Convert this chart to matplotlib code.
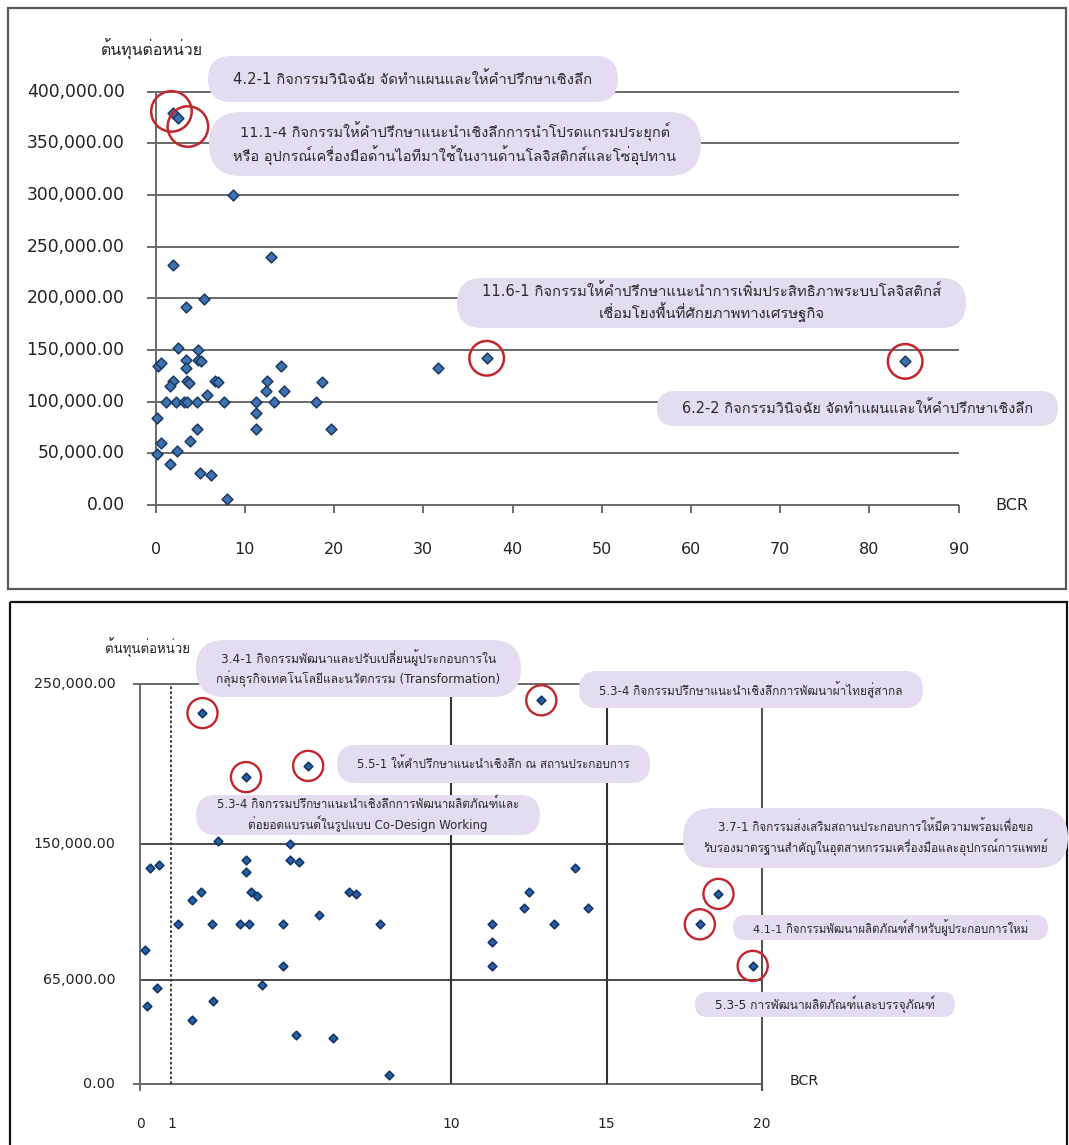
import matplotlib
matplotlib.use("Agg")
import matplotlib.pyplot as plt
import matplotlib.transforms as mtransforms
from matplotlib import font_manager
from matplotlib.ft2font import FT2Font
from matplotlib.patches import FancyBboxPatch, Rectangle

# ---- data (BCR vs cost per unit) ----
bcr = [0.3, 0.6, 2.0, 12.9, 3.4, 5.4, 2.5, 4.8,
       3.4, 3.4, 4.8, 5.1, 14.0, 1.95, 1.65, 3.55,
       3.75, 6.7, 6.95, 12.5, 18.6, 5.75, 12.35, 14.4,
       1.2, 2.3, 3.2, 3.5, 4.6, 7.7, 11.3, 13.3,
       18.0, 11.3, 0.15, 4.6, 11.3, 19.7, 0.55, 3.9,
       0.2, 2.35, 1.65, 5.0, 6.2, 8.0, 8.7, 2.0,
       2.5, 31.7, 37.1, 84.0]
cost = [135000, 137000, 232000, 240000, 192000, 199000, 152000, 150000,
        140000, 133000, 140000, 139000, 135000, 120000, 115000, 120000,
        118000, 120000, 119000, 120000, 119000, 106000, 110000, 110000,
        100000, 100000, 100000, 100000, 100000, 100000, 100000, 100000,
        100000, 89000, 84000, 74000, 74000, 74000, 60000, 62000,
        49000, 52000, 40000, 31000, 29000, 6000, 300000, 379000,
        375000, 133000, 142000, 139000]

# highlighted (circled) projects
top_ring_bcr = [2.0, 2.5, 37.1, 84.0]
top_ring_cost = [379000, 375000, 142000, 139000]
bottom_ring_bcr = [2.0, 3.4, 5.4, 12.9, 18.6, 18.0, 19.7]
bottom_ring_cost = [232000, 192000, 199000, 240000, 119000, 100000, 74000]

top_xticks = [0, 10, 20, 30, 40, 50, 60, 70, 80, 90]
top_yticks = [0, 50000, 100000, 150000, 200000, 250000, 300000, 350000, 400000]
bottom_xticks = [0, 1, 10, 15, 20]
bottom_yticks = [0, 65000, 150000, 250000]
bottom_vlines = [10, 15, 20]
bottom_dotted = 1
bottom_xmax = 20
bottom_ymax = 250000

y_title = "ต้นทุนต่อหน่วย"
x_title = "BCR"

top_notes = [
    "4.2-1 กิจกรรมวินิจฉัย จัดทำแผนและให้คำปรึกษาเชิงลึก",
    "11.1-4 กิจกรรมให้คำปรึกษาแนะนำเชิงลึกการนำโปรดแกรมประยุกต์\n"
    "หรือ อุปกรณ์เครื่องมือด้านไอทีมาใช้ในงานด้านโลจิสติกส์และโซ่อุปทาน",
    "11.6-1 กิจกรรมให้คำปรึกษาแนะนำการเพิ่มประสิทธิภาพระบบโลจิสติกส์\n"
    "เชื่อมโยงพื้นที่ศักยภาพทางเศรษฐกิจ",
    "6.2-2 กิจกรรมวินิจฉัย จัดทำแผนและให้คำปรึกษาเชิงลึก",
]
bottom_notes = [
    "3.4-1 กิจกรรมพัฒนาและปรับเปลี่ยนผู้ประกอบการใน\n"
    "กลุ่มธุรกิจเทคโนโลยีและนวัตกรรม (Transformation)",
    "5.3-4 กิจกรรมปรึกษาแนะนำเชิงลึกการพัฒนาผ้าไทยสู่สากล",
    "5.5-1 ให้คำปรึกษาแนะนำเชิงลึก ณ สถานประกอบการ",
    "5.3-4 กิจกรรมปรึกษาแนะนำเชิงลึกการพัฒนาผลิตภัณฑ์และ\n"
    "ต่อยอดแบรนด์ในรูปแบบ Co-Design Working",
    "3.7-1 กิจกรรมส่งเสริมสถานประกอบการให้มีความพร้อมเพื่อขอ\n"
    "รับรองมาตรฐานสำคัญในอุตสาหกรรมเครื่องมือและอุปกรณ์การแพทย์",
    "4.1-1 กิจกรรมพัฒนาผลิตภัณฑ์สำหรับผู้ประกอบการใหม่",
    "5.3-5 การพัฒนาผลิตภัณฑ์และบรรจุภัณฑ์",
]

# ---- layout (pixels of the 1069x1145 picture) ----
W, H = 1069, 1145
top_boxes = [(208, 56, 618, 102), (209, 112, 701, 176),
             (457, 278, 966, 328), (657, 391, 1058, 426)]
bottom_boxes = [(196, 640, 521, 697), (579, 671, 923, 708),
                (337, 745, 650, 783), (196, 795, 540, 835),
                (683, 808, 1068, 868), (733, 915, 1048, 940),
                (695, 992, 955, 1017)]
top_ring_shift = [(-2, 2), (10, -9), (0, 0), (0, 0)]   # px, (right, up)
top_ring_size = [850, 850, 620, 620]


def thai_font():
    # first installed font that really has Thai glyphs
    for f in font_manager.fontManager.ttflist:
        try:
            if ord("ก") in FT2Font(f.fname).get_charmap():
                return f.name
        except Exception:
            pass
    return None


fam = ["DejaVu Sans"]
tf = thai_font()
if tf:
    fam.append(tf)
plt.rcParams["font.family"] = fam

fig = plt.figure(figsize=(W / 100, H / 100), dpi=100)


def make_panel(top_px, bottom_px, xref, yref):
    ax = fig.add_axes([0, 1 - bottom_px / H, 1, (bottom_px - top_px) / H])
    (xp0, xv0), (xp1, xv1) = xref
    kx = (xv1 - xv0) / (xp1 - xp0)
    ax.set_xlim(xv0 - xp0 * kx, xv0 + (W - xp0) * kx)
    (yp0, yv0), (yp1, yv1) = yref
    ky = (yv1 - yv0) / (yp0 - yp1)
    ax.set_ylim(yv0 - (bottom_px - yp0) * ky, yv0 + (yp0 - top_px) * ky)
    ax.axis("off")
    return ax, kx, ky


grey = "#6a6a6a"
ink = "#222222"

# ---------------- top panel ----------------
ax1, kx1, ky1 = make_panel(0, 595, ((155.6, 0), (958.7, 90)),
                           ((505, 0), (91.7, 400000)))
ax1.hlines(top_yticks, -9 * kx1, top_xticks[-1], color=grey, lw=1.4, zorder=1)
ax1.vlines(0, 0, top_yticks[-1], color=grey, lw=1.4, zorder=1)
ax1.vlines(top_xticks, -8 * ky1, 0, color=grey, lw=1.4, zorder=1)
for v in top_yticks:
    ax1.annotate(f"{v:,.2f}", (0, v), xytext=(-31, 0), textcoords="offset pixels",
                 ha="right", va="center", fontsize=12.3, color=ink)
for v in top_xticks:
    ax1.annotate(f"{v}", (v, 0), xytext=(0, -45), textcoords="offset pixels",
                 ha="center", va="center", fontsize=11.5, color=ink)

ax1.scatter(bcr, cost, marker="D", s=30, c="#3f73ad", edgecolors="#1b3a63",
            linewidths=1.1, zorder=3)
for xv, yv, (dx, dy), sz in zip(top_ring_bcr, top_ring_cost, top_ring_shift, top_ring_size):
    tr = ax1.transData + mtransforms.ScaledTranslation(dx / 100, dy / 100, fig.dpi_scale_trans)
    ax1.scatter([xv], [yv], s=sz, facecolors="none", edgecolors="#c1272d",
                linewidths=1.8, transform=tr, zorder=6)

# ---------------- bottom panel ----------------
ax2, kx2, ky2 = make_panel(595, H, ((140.3, 0), (762, 20)),
                           ((1084.3, 0), (684.3, 250000)))
ax2.hlines([0, bottom_ymax], -7 * kx2, bottom_xmax, color=grey, lw=1.4, zorder=1)
ax2.hlines([v for v in bottom_yticks if 0 < v < bottom_ymax], 0, bottom_xmax,
           color="#4a4a4a", lw=1.4, zorder=1)
ax2.vlines(0, -7 * ky2, bottom_ymax, color=grey, lw=1.4, zorder=1)
ax2.vlines(bottom_vlines[:-1], 0, bottom_ymax, color="#333333", lw=1.5, zorder=1)
ax2.vlines(bottom_vlines[-1], -7 * ky2, bottom_ymax, color="#555555", lw=1.5, zorder=1)
ax2.vlines(bottom_dotted, 0, bottom_ymax, color="#333333", lw=1.3, ls=(0, (1.5, 1.2)), zorder=1)
for v in bottom_yticks:
    ax2.annotate(f"{v:,.2f}", (0, v), xytext=(-25, 0), textcoords="offset pixels",
                 ha="right", va="center", fontsize=10.3, color=ink)
for v in bottom_xticks:
    ax2.annotate(f"{v}", (v, 0), xytext=(0, -40), textcoords="offset pixels",
                 ha="center", va="center", fontsize=10, color=ink)

sel = [(x, y) for x, y in zip(bcr, cost) if x <= bottom_xmax and y <= bottom_ymax]
ax2.scatter([p[0] for p in sel], [p[1] for p in sel], marker="D", s=19, c="#2a5fa3",
            edgecolors="#103767", linewidths=1.2, zorder=3)
ax2.scatter(bottom_ring_bcr, bottom_ring_cost, s=470, facecolors="none",
            edgecolors="#c1272d", linewidths=1.7, zorder=6)

# ---------------- overlay: frames, titles, callouts ----------------
ov = fig.add_axes([0, 0, 1, 1], zorder=5)
ov.set_xlim(0, W)
ov.set_ylim(H, 0)
ov.axis("off")

ov.add_patch(Rectangle((8, 8), 1058, 581, fill=False, ec="#5a5a5a", lw=1.6))
ov.add_patch(Rectangle((10, 602), 1057, 560, fill=False, ec="#111111", lw=1.6))

ov.text(152, 49, y_title, ha="center", va="center", fontsize=11.5, color=ink)
ov.text(1012, 505, x_title, ha="center", va="center", fontsize=11.5, color=ink)
ov.text(148, 648, y_title, ha="center", va="center", fontsize=9.5, color=ink)
ov.text(804, 1081, x_title, ha="center", va="center", fontsize=10.3, color=ink)

labels = []
for notes, boxes, fs, margin in ((top_notes, top_boxes, 10.5, 50),
                                 (bottom_notes, bottom_boxes, 8.5, 40)):
    for txt, (l, t, r, b) in zip(notes, boxes):
        ov.add_patch(FancyBboxPatch((l, t), r - l, b - t,
                                    boxstyle=f"round,pad=0,rounding_size={(b - t) / 2}",
                                    fc="#e6dcf1", ec="none", zorder=2))
        tx = ov.text((l + r) / 2, (t + b) / 2, txt, ha="center", va="center",
                     fontsize=fs, linespacing=1.3, color="#2b2b2b", zorder=3)
        labels.append((tx, r - l - margin, fs))

# shrink / grow callout text so it fills its bubble like the original
fig.canvas.draw()
rend = fig.canvas.get_renderer()
for tx, target, fs in labels:
    w = tx.get_window_extent(rend).width
    if w > 0:
        tx.set_fontsize(max(6.0, min(fs * 1.25, fs * target / w)))

fig.savefig("out.png", dpi=100, facecolor="white")
